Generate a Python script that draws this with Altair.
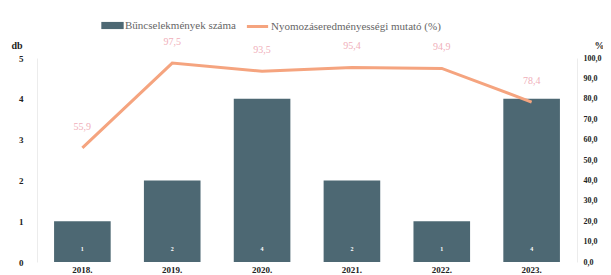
import altair as alt
import pandas as pd

years = ["2018.", "2019.", "2020.", "2021.", "2022.", "2023."]
crimes = [1, 2, 4, 2, 1, 4]
rate = [55.9, 97.5, 93.5, 95.4, 94.9, 78.4]
rate_labels = ["55,9", "97,5", "93,5", "95,4", "94,9", "78,4"]
left_ticks = [0, 1, 2, 3, 4, 5]
right_ticks = [0, 10, 20, 30, 40, 50, 60, 70, 80, 90, 100]
series_bar = "Bűncselekmények száma"
series_line = "Nyomozáseredményességi mutató (%)"

df = pd.DataFrame({"year": years, "crimes": crimes, "rate": rate, "rate_label": rate_labels,
                   "crime_label": [str(c) for c in crimes],
                   "s_bar": series_bar, "s_line": series_line})

FONT = "Liberation Serif"
BAR = "#4d6873"
LINE = "#f5a47f"

x = alt.X("year:N", sort=years, title=None,
          scale=alt.Scale(paddingInner=0.37, paddingOuter=0.19),
          axis=alt.Axis(labelAngle=0, labelFont=FONT, labelFontWeight="bold", labelFontSize=9,
                        labelColor="#222", labelPadding=3, ticks=False, domain=False))

left_axis = alt.Axis(values=left_ticks, title="db", titleAngle=0, titleAlign="left",
                     titleX=-26, titleY=-8, titleFont=FONT, titleFontSize=10, titleFontWeight="bold",
                     titleColor="#222", labelFont=FONT, labelFontWeight="bold", labelFontSize=9,
                     labelColor="#222", labelPadding=14, ticks=False, grid=False,
                     labelOverlap=False, domainColor="#ececec")
right_axis = alt.Axis(orient="right", values=right_ticks,
                      labelExpr="replace(format(datum.value, '.1f'), '.', ',')",
                      labelOverlap=False,
                      title="%", titleAngle=0, titleAlign="left", titleX=17, titleY=-8,
                      titleFont=FONT, titleFontSize=10, titleFontWeight="bold", titleColor="#222",
                      labelFont=FONT, labelFontWeight="bold", labelFontSize=8, labelColor="#222",
                      labelPadding=6, ticks=False, grid=False, domainColor="#ececec")

bar = alt.Chart(df).mark_bar().encode(
    x=x,
    y=alt.Y("crimes:Q", scale=alt.Scale(domain=[0, 5]), axis=left_axis),
    color=alt.Color("s_bar:N", title=None,
                    scale=alt.Scale(range=[BAR]),
                    legend=alt.Legend(orient="none", legendX=64, legendY=-44,
                                      symbolType="M-1,-0.32H1V0.32H-1Z", symbolSize=500,
                                      symbolStrokeWidth=0, labelFont=FONT, labelFontSize=11,
                                      labelColor="#666", labelOffset=1, labelLimit=300)),
)

bar_text = alt.Chart(df).mark_text(color="white", font=FONT, fontSize=6, fontWeight="bold", dy=-13).encode(
    x=x,
    y=alt.Y(datum=0, scale=alt.Scale(domain=[0, 5]), axis=left_axis),
    text="crime_label:N",
)

line = alt.Chart(df).mark_line(strokeWidth=3).encode(
    x=x,
    y=alt.Y("rate:Q", scale=alt.Scale(domain=[0, 100]), axis=right_axis),
    stroke=alt.Stroke("s_line:N", title=None,
                      scale=alt.Scale(range=[LINE]),
                      legend=alt.Legend(orient="none", legendX=208, legendY=-44,
                                        symbolType="stroke", symbolSize=450, symbolStrokeWidth=3,
                                        labelFont=FONT, labelFontSize=11, labelColor="#666",
                                        labelOffset=1, labelLimit=300)),
)

line_text = alt.Chart(df).mark_text(color="#f0afba", font=FONT, fontSize=10, dy=-21).encode(
    x=x,
    y=alt.Y("rate:Q", scale=alt.Scale(domain=[0, 100]), axis=right_axis),
    text="rate_label:N",
)

chart = alt.layer(
    alt.layer(bar, bar_text),
    alt.layer(line, line_text),
).resolve_scale(y="independent", color="independent", stroke="independent").properties(
    width=540, height=204,
    autosize=alt.AutoSizeParams(type="none"),
    padding={"left": 29, "top": 50, "right": 26, "bottom": 13},
).configure_view(stroke=None)

chart.save("out.html", embed_options={"renderer": "svg", "actions": False})
